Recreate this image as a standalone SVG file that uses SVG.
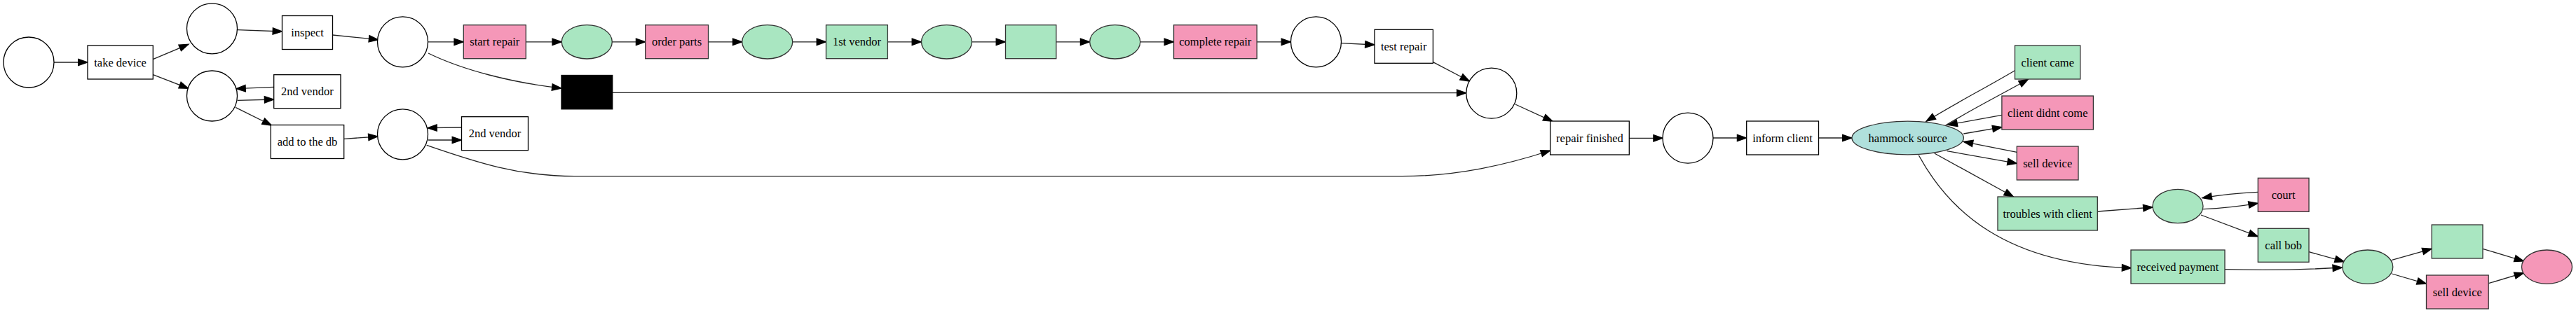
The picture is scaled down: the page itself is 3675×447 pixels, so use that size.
<svg xmlns="http://www.w3.org/2000/svg" width="3675" height="447" viewBox="0 0 3675 447">
<style>
.n{stroke:#000;stroke-width:1.3;fill:#fff}
.pk{fill:#F597B8;stroke:#333}
.gr{fill:#A9E6C1;stroke:#333}
.tl{fill:#B0E0DC;stroke:#333}
.bk{fill:#000;stroke:#000}
text{font-family:"Liberation Serif","Times New Roman",serif;font-size:16.5px;text-anchor:middle;fill:#000}
.e path{fill:none;stroke:#222;stroke-width:1.3;marker-end:url(#ah)}
</style>
<defs>
<marker id="ah" markerUnits="userSpaceOnUse" markerWidth="15" markerHeight="11" refX="13.3" refY="5" orient="auto" overflow="visible">
<path d="M0,0.33 L13.3,5 L0,9.67 z" fill="#000" stroke="#000" stroke-width="1.3"/>
</marker>
</defs>
<rect width="3675" height="447" fill="#fff"/>
<g class="e" id="edges">
<path d="M77,89 L125,89"/>
<path d="M218.3,84.6 L268.9,63.3"/>
<path d="M218.3,106.7 L268.9,126.3"/>
<path d="M338.9,42.7 L402.5,45"/>
<path d="M474.5,50 L539.7,56.7"/>
<path d="M390.7,124.3 L336.9,126.7"/>
<path d="M338.9,143.3 L390.7,142"/>
<path d="M336,153.3 L387.5,179"/>
<path d="M490.7,198.3 L539,195"/>
<path d="M610.5,59.8 L661.3,59.8"/>
<path d="M750.3,59.8 L801.3,59.8"/>
<path d="M873.3,59.8 L920.7,59.8"/>
<path d="M1010.5,59.8 L1058.7,59.8"/>
<path d="M1130.7,59.8 L1178.5,59.8"/>
<path d="M1266.4,59.8 L1314.5,59.8"/>
<path d="M1386.5,59.8 L1434.5,59.8"/>
<path d="M1506.8,59.8 L1554.7,59.8"/>
<path d="M1626.7,59.8 L1674.5,59.8"/>
<path d="M1793.1,59.8 L1841.5,59.8"/>
<path d="M1913.5,61.7 L1961,64"/>
<path d="M2044.4,88.7 L2096.6,116"/>
<path d="M611,76 C660,100 730,118 800.9,126"/>
<path d="M873.7,132.3 C1000,132.7 1200,132.7 2091.8,132.7"/>
<path d="M658.5,182 L609.9,182.7"/>
<path d="M611,200 L658.5,200"/>
<path d="M608.7,207.3 C680,232 740,251.7 820,251.7 L2000,251.7 C2080,251.7 2150,235 2211.6,215"/>
<path d="M2161.8,149 L2215,173.3"/>
<path d="M2324.3,197.3 L2372.2,197.3"/>
<path d="M2444,197 L2491.7,197"/>
<path d="M2594.5,197 L2642,197"/>
<path d="M2874.5,100.7 C2830,127 2785,150 2748,173.3"/>
<path d="M2775.6,179 C2815,155 2855,135 2893.5,113.3"/>
<path d="M2855.9,164.3 L2779,178.3"/>
<path d="M2801.3,191 L2855.9,181.7"/>
<path d="M2877.3,217.3 L2801.3,202.3"/>
<path d="M2777.6,215.7 L2877.3,233.3"/>
<path d="M2759.8,219 L2872.5,281"/>
<path d="M2737.3,221.7 C2780,300 2860,378 3040.7,382.7"/>
<path d="M2992.3,302 L3071,296"/>
<path d="M3221.3,274.3 Q3180,276 3142,282.7"/>
<path d="M3143,298.7 Q3180,297 3221.3,290.3"/>
<path d="M3140,307 L3221.3,337.7"/>
<path d="M3294,359.7 L3344.4,373.7"/>
<path d="M3174,384.7 Q3260,387 3341.4,382"/>
<path d="M3412.4,371.3 L3469.2,355.3"/>
<path d="M3412.4,391 L3461.5,405.3"/>
<path d="M3542,355.3 L3600.5,373"/>
<path d="M3550.2,404.7 L3600.5,389.7"/>
</g>
<g id="p0"><circle class="n" cx="41" cy="89" r="36"/></g>
<g id="t_take"><rect class="n" x="125" y="65" width="93.3" height="48"/><text x="171.6" y="94.5">take device</text></g>
<g id="p1"><circle class="n" cx="302.5" cy="40.8" r="36"/></g>
<g id="p2"><circle class="n" cx="302.5" cy="137" r="36"/></g>
<g id="t_inspect"><rect class="n" x="402.5" y="22.5" width="72" height="48"/><text x="438.5" y="52">inspect</text></g>
<g id="t_2ndv_a"><rect class="n" x="390.7" y="106.7" width="95.3" height="48"/><text x="438.3" y="136.2">2nd vendor</text></g>
<g id="t_adddb"><rect class="n" x="386.3" y="178.5" width="104.4" height="48"/><text x="438.5" y="208">add to the db</text></g>
<g id="p3"><circle class="n" cx="574.5" cy="59.8" r="36"/></g>
<g id="p4"><circle class="n" cx="574.5" cy="191.8" r="36"/></g>
<g id="t_start"><rect class="n pk" x="661.3" y="35.7" width="89" height="48"/><text x="705.8" y="65.3">start repair</text></g>
<g id="t_black"><rect class="n bk" x="801" y="107.5" width="72.7" height="48.3"/></g>
<g id="t_2ndv_b"><rect class="n" x="658.5" y="166.7" width="95" height="48"/><text x="706" y="196.2">2nd vendor</text></g>
<g id="pg1"><ellipse class="n gr" cx="837.3" cy="59.8" rx="36" ry="24.2"/></g>
<g id="t_order"><rect class="n pk" x="920.7" y="35.7" width="89.8" height="48"/><text x="965.6" y="65.3">order parts</text></g>
<g id="pg2"><ellipse class="n gr" cx="1094.7" cy="59.8" rx="36" ry="24.2"/></g>
<g id="t_1stv"><rect class="n gr" x="1178.5" y="35.7" width="87.9" height="48"/><text x="1222.5" y="65.3">1st vendor</text></g>
<g id="pg3"><ellipse class="n gr" cx="1350.5" cy="59.8" rx="36" ry="24.2"/></g>
<g id="t_green1"><rect class="n gr" x="1434.5" y="35.7" width="72.3" height="48"/></g>
<g id="pg4"><ellipse class="n gr" cx="1590.7" cy="59.8" rx="36" ry="24.2"/></g>
<g id="t_complete"><rect class="n pk" x="1674.5" y="35.7" width="118.6" height="48"/><text x="1733.8" y="65.3">complete repair</text></g>
<g id="p5"><circle class="n" cx="1877.5" cy="59.8" r="36"/></g>
<g id="t_test"><rect class="n" x="1961" y="42.3" width="83.4" height="48"/><text x="2002.7" y="71.8">test repair</text></g>
<g id="p6"><circle class="n" cx="2127.8" cy="133.2" r="36"/></g>
<g id="t_finished"><rect class="n" x="2211.6" y="173" width="112.7" height="48"/><text x="2268" y="202.5">repair finished</text></g>
<g id="p7"><circle class="n" cx="2408" cy="197.2" r="36"/></g>
<g id="t_inform"><rect class="n" x="2491.7" y="173" width="102.8" height="48"/><text x="2543" y="202.5">inform client</text></g>
<g id="hammock"><ellipse class="n tl" cx="2721.7" cy="197" rx="79.7" ry="23.8"/><text x="2721.7" y="202.5">hammock source</text></g>
<g id="t_came"><rect class="n gr" x="2874.5" y="65" width="93.3" height="48"/><text x="2921.2" y="94.5">client came</text></g>
<g id="t_didnt"><rect class="n pk" x="2855.9" y="137" width="130.5" height="48"/><text x="2921.2" y="166.5">client didnt come</text></g>
<g id="t_sell1"><rect class="n pk" x="2877.3" y="209" width="87.7" height="48"/><text x="2921.2" y="238.5">sell device</text></g>
<g id="t_troubles"><rect class="n gr" x="2850" y="281" width="142.3" height="48"/><text x="2921.2" y="310.5">troubles with client</text></g>
<g id="pg5"><ellipse class="n gr" cx="3107" cy="294.5" rx="36" ry="24.2"/></g>
<g id="t_court"><rect class="n pk" x="3221.3" y="254.3" width="72.7" height="48"/><text x="3257.7" y="283.8">court</text></g>
<g id="t_callbob"><rect class="n gr" x="3221.3" y="326.3" width="72.7" height="48"/><text x="3257.7" y="355.8">call bob</text></g>
<g id="t_received"><rect class="n gr" x="3040" y="357" width="134" height="48"/><text x="3107" y="386.5">received payment</text></g>
<g id="pg6"><ellipse class="n gr" cx="3377.8" cy="381.2" rx="36" ry="24.2"/></g>
<g id="t_green2"><rect class="n gr" x="3469.2" y="321" width="72.8" height="48"/></g>
<g id="t_sell2"><rect class="n pk" x="3461.5" y="393" width="88.7" height="48"/><text x="3505.8" y="422.5">sell device</text></g>
<g id="p_end"><ellipse class="n pk" cx="3633.5" cy="381.2" rx="36" ry="24.2"/></g>
</svg>
